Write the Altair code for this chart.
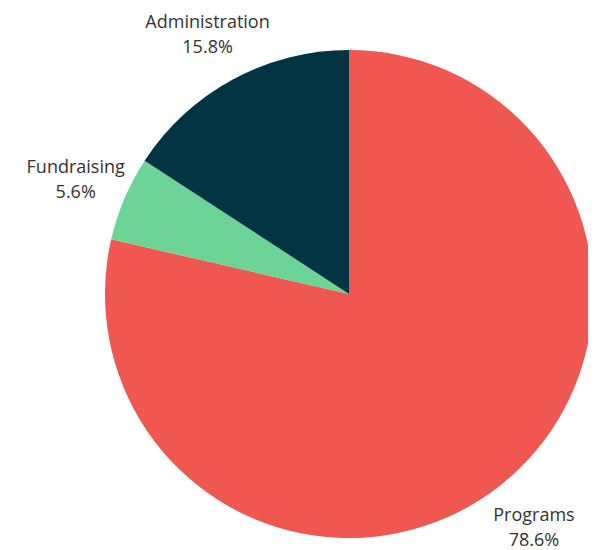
import altair as alt
import pandas as pd

categories = ["Programs", "Fundraising", "Administration"]
values = [78.6, 5.6, 15.8]
colors = ["#EF5750", "#6DD498", "#023443"]

df = pd.DataFrame({
    "category": categories,
    "value": values,
    "order": list(range(len(categories))),
})
df["label"] = [f"{c}\n{v}%" for c, v in zip(categories, values)]

cx, cy = 341, 286

base = alt.Chart(df).encode(
    theta=alt.Theta("value:Q", stack=True),
    order=alt.Order("order:Q"),
)

pie = base.mark_arc(outerRadius=244, stroke=None).encode(
    x=alt.value(cx),
    y=alt.value(cy),
    color=alt.Color("category:N",
                    scale=alt.Scale(domain=categories, range=colors),
                    legend=None),
)

labels = base.mark_text(
    radius=297, lineBreak="\n", align="center", baseline="middle", dy=-10,
    font="Open Sans", fontSize=18, lineHeight=25, color="#333333",
).encode(
    x=alt.value(cx),
    y=alt.value(cy),
    text="label:N",
)

chart = (pie + labels).properties(
    width=580, height=542, padding=0,
    autosize=alt.AutoSizeParams(type="none"),
).configure_view(stroke=None)

chart.save("out.html", embed_options={"renderer": "svg", "actions": False})
